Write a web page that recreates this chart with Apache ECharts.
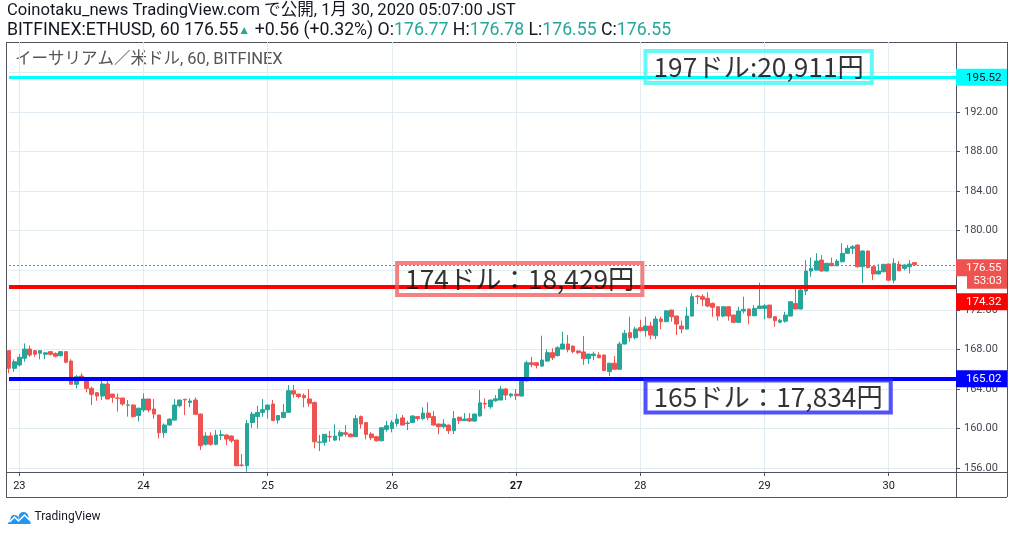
<!DOCTYPE html>
<html><head><meta charset="utf-8">
<script src="https://cdn.jsdelivr.net/npm/echarts@6/dist/echarts.min.js"></script>
<style>html,body{margin:0;padding:0;background:#fff}#c{width:1014px;height:537px}</style>
</head><body><div id="c"></div>
<script>
// Hourly candles, first candle = Jan 22 22:00
const firstDay = 22, firstHour = 22, padSlots = 8;
const opens = [167.87,166.08,166.42,167.1,168.03,167.87,167.6,167.5,167.77,167.57,
 167.36,167.77,166.82,164.47,165.3,164.9,164.06,163.62,163.28,164.5,
 163.48,163.08,163.08,162.35,162.37,161.31,161.88,162.98,161.97,161.36,
 159.57,160.35,160.85,162.3,162.95,162.64,162.88,161.46,158.4,159.24,
 158.4,159.3,159.34,159.24,158.83,156.3,156.23,160.6,161.2,161.63,
 161.9,162.47,160.85,161.1,161.63,163.82,163.48,163.34,162.98,162.64,
 158.6,158.6,159.2,158.83,159.24,159.57,159.44,159.17,161.2,160.6,
 159.44,159.17,158.76,159.91,160.0,160.5,161.07,160.5,160.6,161.2,
 161.0,161.56,161.2,160.45,160.18,160.35,159.78,161.14,160.8,161.0,
 160.75,161.27,162.54,162.2,162.8,162.88,163.99,163.3,163.48,163.28,
 164.83,166.65,166.65,166.31,166.82,167.67,167.36,168.03,168.54,168.33,
 167.84,167.74,167.06,167.36,167.43,167.43,165.75,166.6,165.99,168.54,
 169.69,169.18,170.2,169.89,170.36,169.38,171.07,170.8,171.98,171.37,
 170.36,170.06,171.37,173.39,173.33,173.16,172.65,172.31,171.37,172.31,
 171.47,170.73,171.88,172.08,171.4,172.14,172.14,172.48,171.3,170.75,
 170.85,171.37,172.65,172.08,173.9,175.92,176.02,177.03,175.92,176.7,
 176.46,176.86,177.71,178.22,178.55,176.36,177.94,176.36,175.62,175.85,
 176.63,175.0,176.6,176.19,176.36,176.77];
const closes = [166.08,166.75,167.2,168.03,167.43,167.5,167.87,167.65,167.5,167.31,
 167.77,166.7,164.47,165.24,165.1,164.06,163.45,163.28,164.5,162.98,
 163.15,163.05,162.47,162.38,161.2,162.05,162.98,161.88,161.46,159.57,
 160.35,160.95,162.37,162.88,162.88,162.78,161.43,158.26,159.24,158.4,
 159.34,159.37,158.93,158.76,156.23,156.27,160.5,161.46,161.63,161.9,
 162.37,160.8,161.31,161.63,163.82,163.48,163.22,163.11,162.55,158.66,
 158.63,159.41,159.14,159.24,159.61,159.41,159.17,161.0,160.45,159.41,
 159.07,158.76,160.08,160.28,160.61,160.95,160.35,160.55,161.27,161.0,
 161.56,161.1,160.35,160.18,160.45,159.78,161.0,160.8,160.95,160.75,
 161.46,162.6,162.47,162.88,163.0,163.99,163.38,163.48,163.31,164.83,
 166.65,166.45,166.38,166.92,167.67,167.16,168.16,168.54,167.97,167.77,
 167.67,167.06,167.53,167.53,167.16,165.85,166.6,165.99,168.54,169.62,
 169.18,170.06,169.89,170.36,169.45,171.07,170.8,171.9,171.3,170.56,
 170.06,171.37,173.33,173.33,173.06,172.38,172.25,171.37,172.31,171.37,
 170.73,171.88,172.05,171.4,172.14,172.38,172.41,171.2,170.9,170.95,
 171.47,172.82,172.08,174.0,175.92,176.19,176.93,175.92,176.7,176.46,
 176.93,177.71,178.22,178.38,176.36,177.94,176.26,175.62,175.92,176.6,
 175.0,176.7,175.95,176.53,176.63,176.55];
const lows = [165.58,165.74,166.25,166.75,167.23,167.26,166.99,167.0,167.36,167.2,
 167.3,166.6,164.45,164.06,165.0,163.65,162.37,162.8,162.88,162.95,
 162.6,161.7,162.3,161.2,161.1,160.7,161.67,161.63,161.0,159.0,
 159.06,160.3,160.8,162.14,161.36,162.14,161.4,157.82,158.26,158.26,
 158.3,158.83,158.33,158.55,156.2,156.13,155.63,160.08,160.0,161.2,
 161.0,160.75,160.5,161.05,161.56,163.11,163.05,162.14,162.2,157.99,
 157.72,158.26,158.66,158.73,158.76,159.17,159.1,159.15,160.0,158.9,
 158.83,158.66,158.7,159.68,159.61,160.18,160.3,159.84,160.55,160.78,
 160.85,160.85,160.3,159.41,160.0,159.44,159.44,160.45,160.75,160.65,
 160.7,161.2,162.0,162.0,162.71,162.85,162.88,163.1,162.88,163.25,
 164.73,166.18,166.07,166.25,166.75,166.92,167.3,168.0,167.7,167.6,
 167.5,166.42,166.52,166.9,167.1,165.8,165.3,165.95,165.95,168.5,
 168.78,169.01,169.79,169.28,169.01,169.04,170.03,170.75,170.8,169.45,
 169.62,170.0,171.3,172.58,172.38,172.25,171.3,170.9,171.24,170.9,
 170.7,170.7,171.63,170.53,171.35,172.1,171.04,171.15,170.29,170.63,
 170.7,171.35,172.05,172.05,173.49,175.34,176.0,175.85,175.9,176.4,
 176.4,176.8,177.64,177.64,176.26,174.68,176.2,175.0,175.6,175.8,
 174.91,174.68,175.9,176.0,175.69,176.55];
const highs = [167.95,166.99,167.53,168.6,168.4,167.9,167.9,167.75,167.8,167.7,
 167.8,167.8,167.0,165.41,165.6,165.0,164.23,163.7,164.8,164.8,
 163.5,163.55,163.1,162.88,162.45,162.1,163.55,163.0,162.98,161.4,
 160.5,161.0,162.98,162.9,163.0,163.05,163.15,161.5,159.62,159.62,
 159.84,159.84,159.4,159.3,158.85,157.42,160.85,161.7,162.3,162.98,
 162.4,162.88,161.35,162.47,164.4,164.4,163.5,163.55,163.97,162.7,
 159.34,159.45,159.74,160.42,159.84,160.35,159.5,161.36,161.31,160.65,
 159.62,159.2,160.1,160.78,160.85,161.46,161.36,160.78,161.3,161.25,
 162.14,162.64,161.77,160.5,160.95,160.4,161.77,161.2,161.56,161.56,
 161.5,163.89,163.05,162.9,163.38,164.29,164.1,163.6,163.99,164.85,
 166.85,167.26,166.7,169.38,168.0,168.11,168.33,169.79,169.45,168.4,
 167.9,169.35,167.55,167.77,167.7,167.45,166.65,167.33,168.78,169.96,
 171.3,170.29,171.0,171.3,170.8,171.37,171.3,171.95,172.0,171.4,
 170.9,172.25,173.67,173.5,173.57,173.77,172.75,172.35,172.35,172.35,
 171.5,172.31,173.33,172.1,172.48,174.74,172.58,172.5,171.35,171.07,
 171.8,172.85,174.4,174.4,177.03,177.3,177.71,177.54,176.75,177.27,
 177.13,178.73,178.55,178.55,178.6,178.04,178.0,176.4,176.6,176.65,
 176.65,177.2,176.93,176.6,177.03,176.78];
// grid/tick prices; the 196 label is hidden behind the 195.52 tag in the original
const priceTicks = [156,160,164,168,172,176,180,184,188,192,196];
const priceLabels = [156,160,164,168,172,176,180,184,188,192];
const yMin = 155.6, yMax = 199.08;
const lastPrice = 176.55, countdown = '53:03';
const levelCyan = 195.52, levelRed = 174.32, levelBlue = 165.02;
const notes = [
  {text:'197ドル:20,911円', idx:122.5, price:198.17, border:'#3ff6f6'},
  {text:'174ドル：18,429円', idx:74.6, price:176.73, border:'#f26363'},
  {text:'165ドル：17,834円', idx:122.7, price:164.85, border:'#2626ff'}
];

const cats = [], hours = [];
for (let i = 0; i < opens.length + padSlots; i++) {
  const t = firstHour + i;
  hours.push(t % 24);
  cats.push(String(firstDay + Math.floor(t / 24)));
}
const candleData = opens.map((o, i) => [o, closes[i], lows[i], highs[i]]);
const dayStart = (i) => hours[i] === 0;
const FONT = "Roboto, 'Noto Sans CJK JP', sans-serif";
const UP = '#26a69a', DOWN = '#ef5350';
const tagStyle = (bg, fg) => ({backgroundColor: bg, color: fg, padding: [3, 4, 2, 10], width: 37, height: 12, lineHeight: 12, fontSize: 11.5, fontFamily: FONT});

const chart = echarts.init(document.getElementById('c'), null, {renderer: 'canvas'});
chart.setOption({
  animation: false,
  backgroundColor: '#fff',
  textStyle: {fontFamily: FONT},
  grid: {left: 9, right: 58, top: 42, bottom: 65, containLabel: false},
  xAxis: {
    type: 'category', data: cats, boundaryGap: false,
    axisLine: {show: false},
    axisTick: {show: true, interval: dayStart, length: 4, lineStyle: {color: '#50535e'}},
    axisLabel: {interval: dayStart, color: '#131722', fontSize: 11, margin: 9,
      formatter: (v) => v === '27' ? '{b|27}' : v,
      rich: {b: {fontWeight: 'bold', fontSize: 11, color: '#131722'}}},
    splitLine: {show: true, interval: dayStart, lineStyle: {color: '#e1ecf2', width: 1}}
  },
  yAxis: {
    type: 'value', position: 'right', min: yMin, max: yMax, scale: true,
    axisLine: {show: false},
    axisTick: {show: true, length: 4, customValues: priceTicks, lineStyle: {color: '#50535e'}},
    axisLabel: {customValues: priceLabels, color: '#434651', fontSize: 11, margin: 8,
      formatter: (v) => v.toFixed(2)},
    splitLine: {show: true, lineStyle: {color: '#e1ecf2', width: 1}}
  },
  series: [
    {
      type: 'candlestick', data: candleData, clip: false, barWidth: '82%',
      itemStyle: {color: UP, color0: DOWN, borderColor: UP, borderColor0: DOWN, borderWidth: 1},
      markLine: {
        silent: true, symbol: ['none', 'none'], animation: false,
        data: [
          {yAxis: lastPrice, lineStyle: {color: DOWN, width: 1, type: [2, 2]},
            label: {show: true, position: 'end', distance: 0,
              formatter: '{g| }\n{p|' + lastPrice.toFixed(2) + '}\n{c|' + countdown + '}',
              rich: {g: {height: 18, fontSize: 11}, p: tagStyle(DOWN, '#fff'),
                c: {backgroundColor: '#ef5350', color: '#fff', padding: [4, 5, 2, 6], width: 29, height: 12, lineHeight: 12, fontSize: 11.5, align: 'right', fontFamily: FONT}}}},
          {yAxis: levelCyan, lineStyle: {color: '#00ffff', width: 3, type: 'solid'},
            label: {show: true, position: 'end', distance: 0, formatter: '{t|' + levelCyan.toFixed(2) + '}',
              rich: {t: tagStyle('#00ffff', '#131722')}}},
          {yAxis: levelRed, lineStyle: {color: '#ff0000', width: 4, type: 'solid'},
            label: {show: true, position: 'end', distance: 0, formatter: '{g| }\n{t|' + levelRed.toFixed(2) + '}',
              rich: {g: {height: 30, fontSize: 11}, t: tagStyle('#ff0000', '#fff')}}},
          {yAxis: levelBlue, lineStyle: {color: '#0000ff', width: 4, type: 'solid'},
            label: {show: true, position: 'end', distance: 0, formatter: '{t|' + levelBlue.toFixed(2) + '}',
              rich: {t: tagStyle('#0000ff', '#fff')}}}
        ]
      }
    },
    {
      type: 'scatter', silent: true, symbolSize: 0, z: 6,
      data: notes.map(n => ({value: [n.idx, n.price], name: n.text,
        label: {borderColor: n.border}})),
      label: {show: true, position: [0, 0], align: 'left', verticalAlign: 'top',
        formatter: (p) => p.name, color: '#000', fontSize: 26.3, lineHeight: 32,
        fontFamily: "'Noto Sans CJK JP', sans-serif",
        borderWidth: 2, padding: [0, 8, 0, 8], backgroundColor: 'transparent'}
    }
  ],
  graphic: [
    {type: 'text', left: 7, top: 3, silent: true,
      style: {text: 'Coinotaku_news TradingView.com で公開, 1月 30, 2020 05:07:00 JST', fontSize: 16.6, fill: '#131722', fontFamily: FONT}},
    {type: 'text', left: 7, top: 22, silent: true,
      style: {text: '{k|BITFINEX:ETHUSD, 60 176.55}{a|▲}{k| +0.56 (+0.32%) O:}{g|176.77}{k| H:}{g|176.78}{k| L:}{g|176.55}{k| C:}{g|176.55}',
        rich: {k: {fontSize: 17.7, fill: '#131722', fontFamily: FONT}, g: {fontSize: 17.7, fill: UP, fontFamily: FONT}, a: {fontSize: 12, fill: UP}}}},
    {type: 'text', left: 15, top: 52, silent: true,
      style: {text: 'イーサリアム／米ドル, 60, BITFINEX', fontSize: 16.5, fill: '#555', fontFamily: FONT}},
    {type: 'group', silent: true, z: 100, children: [
      {type: 'line', shape: {x1: 6, y1: 42.5, x2: 1007, y2: 42.5}, style: {stroke: '#50535e', lineWidth: 1}},
      {type: 'line', shape: {x1: 6.5, y1: 42, x2: 6.5, y2: 497}, style: {stroke: '#50535e', lineWidth: 1}},
      {type: 'line', shape: {x1: 1007.5, y1: 42, x2: 1007.5, y2: 497}, style: {stroke: '#50535e', lineWidth: 1}},
      {type: 'line', shape: {x1: 956.5, y1: 42, x2: 956.5, y2: 497}, style: {stroke: '#50535e', lineWidth: 1}},
      {type: 'line', shape: {x1: 6, y1: 472.5, x2: 1007, y2: 472.5}, style: {stroke: '#50535e', lineWidth: 1}},
      {type: 'line', shape: {x1: 6, y1: 497.5, x2: 1007, y2: 497.5}, style: {stroke: '#50535e', lineWidth: 1}}
    ]},
    {type: 'group', left: 7, top: 511, silent: true, children: [
      {type: 'polygon', shape: {points: [[0, 14], [6, 5], [11, 10], [16, 3], [23, 12], [23, 14]]}, style: {fill: '#2196f3'}},
      {type: 'circle', shape: {cx: 16, cy: 7, r: 5}, style: {fill: '#2196f3'}},
      {type: 'circle', shape: {cx: 7, cy: 9, r: 4}, style: {fill: '#2196f3'}},
      {type: 'polyline', shape: {points: [[2, 12], [7, 7], [11, 11], [17, 5], [22, 10]]}, style: {stroke: '#fff', lineWidth: 1.5, fill: null}},
      {type: 'text', x: 27, y: 1, style: {text: 'TradingView', fontSize: 12, fill: '#131722', fontFamily: FONT}}
    ]}
  ]
});
</script></body></html>
